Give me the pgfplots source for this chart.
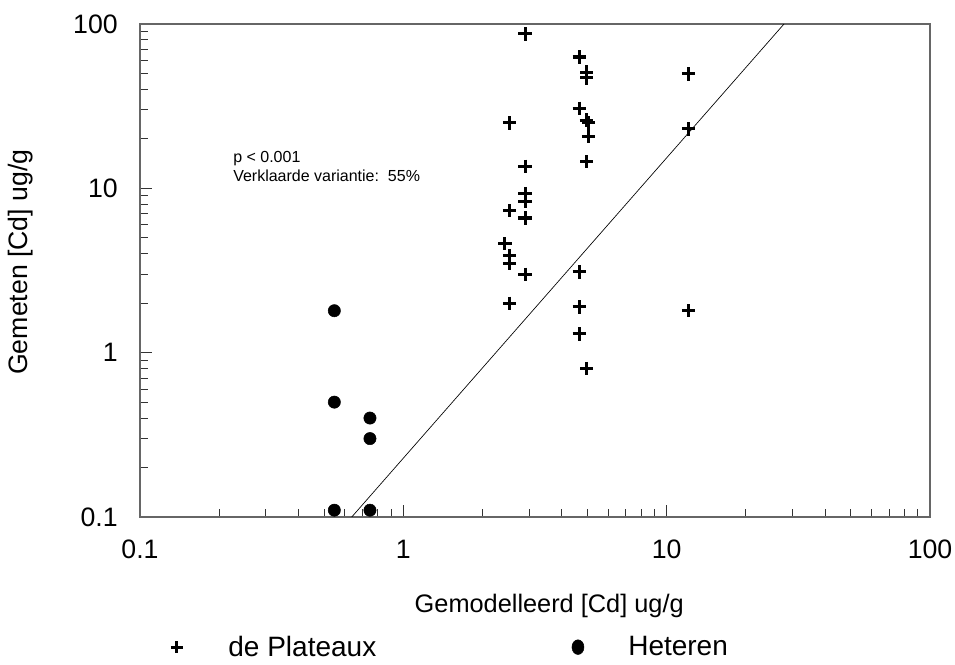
\documentclass[border=0pt]{standalone}
\usepackage{fontspec}
\setmainfont{Liberation Sans}
\usepackage{pgfplots}
\pgfplotsset{compat=1.18}
\begin{document}
\begin{tikzpicture}
\begin{axis}[
  scale only axis, width=592.5pt, height=369.75pt,
  xmode=log, ymode=log,
  xmin=0.1, xmax=100, ymin=0.1, ymax=100,
  xtick={0.1,1,10,100}, xticklabels={0.1,1,10,100},
  ytick={0.1,1,10,100}, yticklabels={0.1,1,10,100},
  minor xtick={0.2,0.3,0.4,0.5,0.6,0.7,0.8,0.9,2,3,4,5,6,7,8,9,20,30,40,50,60,70,80,90},
  minor ytick={0.2,0.3,0.4,0.5,0.6,0.7,0.8,0.9,2,3,4,5,6,7,8,9,20,30,40,50,60,70,80,90},
  xtick pos=bottom, ytick pos=left, tick align=inside,
  major tick length=9pt, minor tick length=6pt,
  axis line style={black!60, line width=0.8pt},
  every tick/.style={black!80, line width=0.7pt},
  tick label style={font=\fontsize{20}{24}\selectfont, inner sep=0pt},
  xticklabel style={anchor=north, yshift=-17pt},
  yticklabel style={anchor=east, xshift=-16.5pt},
  xlabel={Gemodelleerd [Cd] ug/g},
  ylabel={Gemeten [Cd] ug/g},
  xlabel style={font=\fontsize{19}{23}\selectfont, at={(axis description cs:0.518,-0.1805)}, anchor=center},
  ylabel style={font=\fontsize{20}{24}\selectfont, at={(axis description cs:-0.1506,0.517)}, anchor=center},
  clip mode=individual,
  legend columns=2,
  legend style={at={(0.0249,-0.264)}, anchor=west,
    draw=none, fill=none,
    font=\fontsize{21}{25}\selectfont,
    /tikz/every odd column/.append style={column sep=27pt},
    /tikz/every even column/.append style={column sep=140.5pt}},
]
\addplot[only marks, mark=+, mark size=5pt, line width=2.3pt, black,
  legend image code/.code={\path (0cm,-0.3cm) (0.6cm,0.3cm);
    \draw[line width=2.1pt] plot[mark=+, mark size=4.5pt] coordinates {(0.3cm,0cm)};}]
coordinates {
(2.90,87) (4.66,63) (4.97,51) (4.97,47) (12.1,49.7)
(2.53,25) (4.66,30.7) (4.95,26) (5.05,25) (5.05,20.8) (12.1,23)
(4.97,14.5) (2.90,13.6) (2.90,9.3) (2.90,8.3) (2.53,7.3) (2.90,6.6)
(2.43,4.6) (2.53,3.9) (2.53,3.5) (2.90,3.0) (4.66,3.1)
(2.53,2.0) (4.66,1.9) (4.66,1.3) (4.97,0.8) (12.1,1.8)
};
\addlegendentry{de Plateaux}
\addplot[only marks, mark=*, mark size=4.6pt, black,
  legend image code/.code={\path (0cm,-0.3cm) (0.6cm,0.3cm);
    \fill[black] (0.3cm,0cm) ellipse [x radius=4.5pt, y radius=5.5pt];}]
coordinates {
(0.547,1.8) (0.547,0.5) (0.747,0.4) (0.747,0.3) (0.547,0.11) (0.747,0.11)
};
\addlegendentry{Heteren}
\addplot[black, line width=0.5pt, mark=none, forget plot]
coordinates {(0.637,0.1) (27.9,100)};
\node[anchor=base west, inner sep=0pt, font=\fontsize{12}{14}\selectfont]
  at (axis cs:0.2255,14.28) {p < 0.001};
\node[anchor=base west, inner sep=0pt, font=\fontsize{12}{14}\selectfont]
  at (axis cs:0.2255,10.94) {Verklaarde variantie:\ \ 55\%};
\end{axis}
\pgfresetboundingbox
\path ([shift={(-105pt,-111pt)}]current axis.south west) rectangle ([shift={(18.75pt,18pt)}]current axis.north east);
\end{tikzpicture}
\end{document}
